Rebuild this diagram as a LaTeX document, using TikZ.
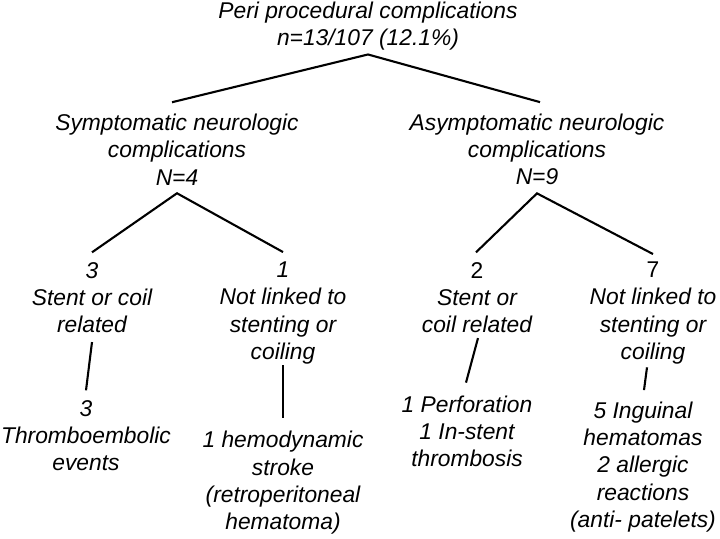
\documentclass[tikz,border=0pt]{standalone}
\usepackage{fontspec}
\setmainfont{Liberation Sans}
\begin{document}
\begin{tikzpicture}[x=1pt,y=-1pt,
  txt/.style={align=center,inner sep=3pt,font=\fontsize{22.8}{27.3}\selectfont\itshape},
  conn/.style={line width=2.1pt,black}]
\useasboundingbox (0,0) rectangle (720,538);
\node[txt] (title) at (368,26) {Peri procedural complications\\n=13/107 (12.1\%)};
\node[txt] (symp) at (177,149.5) {Symptomatic neurologic\\complications\\N=4};
\node[txt] (asymp) at (537,149.5) {Asymptomatic neurologic\\complications\\N=9};
\node[txt] (ls) at (92,297.5) {3\\Stent or coil\\related};
\node[txt] (ln) at (283,313) {1\\Not linked to\\stenting or\\coiling};
\node[txt] (rs) at (477,297.5) {{\upshape 2}\\Stent or\\coil related};
\node[txt] (rn) at (653,313) {{\upshape 7}\\Not linked to\\stenting or\\coiling};
\node[txt] (thr) at (86,435.5) {3\\Thromboembolic\\events};
\node[txt] (hemo) at (283,483) {1 hemodynamic\\stroke\\(retroperitoneal\\hematoma)};
\node[txt] (perf) at (467,431.5) {1 Perforation\\1 In-stent\\thrombosis};
\node[txt] (ingu) at (643,467) {5 Inguinal\\hematomas\\2 allergic\\reactions\\(anti- patelets)};
% connectors
\draw[conn] ([xshift=-5pt,yshift=8.5pt]symp.north) -- ([yshift=-1pt]title.south) -- ([xshift=3pt,yshift=8.5pt]asymp.north);
\draw[conn] ([yshift=6.6pt]ls.north) -- ([yshift=-5pt]symp.south) -- ([yshift=6.6pt]ln.north);
\draw[conn] ([xshift=-1pt,yshift=6.6pt]rs.north) -- ([yshift=-5pt]asymp.south) -- ([yshift=4.6pt]rn.north);
\draw[conn] ([yshift=-6pt]ls.south) -- ([yshift=6.6pt]thr.north);
\draw[conn] ([yshift=2pt]ln.south) -- ([yshift=10pt]hemo.north);
\draw[conn] ([xshift=1pt,yshift=-2pt]rs.south) -- ([xshift=-1pt,yshift=10pt]perf.north);
\draw[conn] ([xshift=-6pt,yshift=0pt]rn.south) -- ([xshift=1pt,yshift=8.5pt]ingu.north);
\end{tikzpicture}
\end{document}
